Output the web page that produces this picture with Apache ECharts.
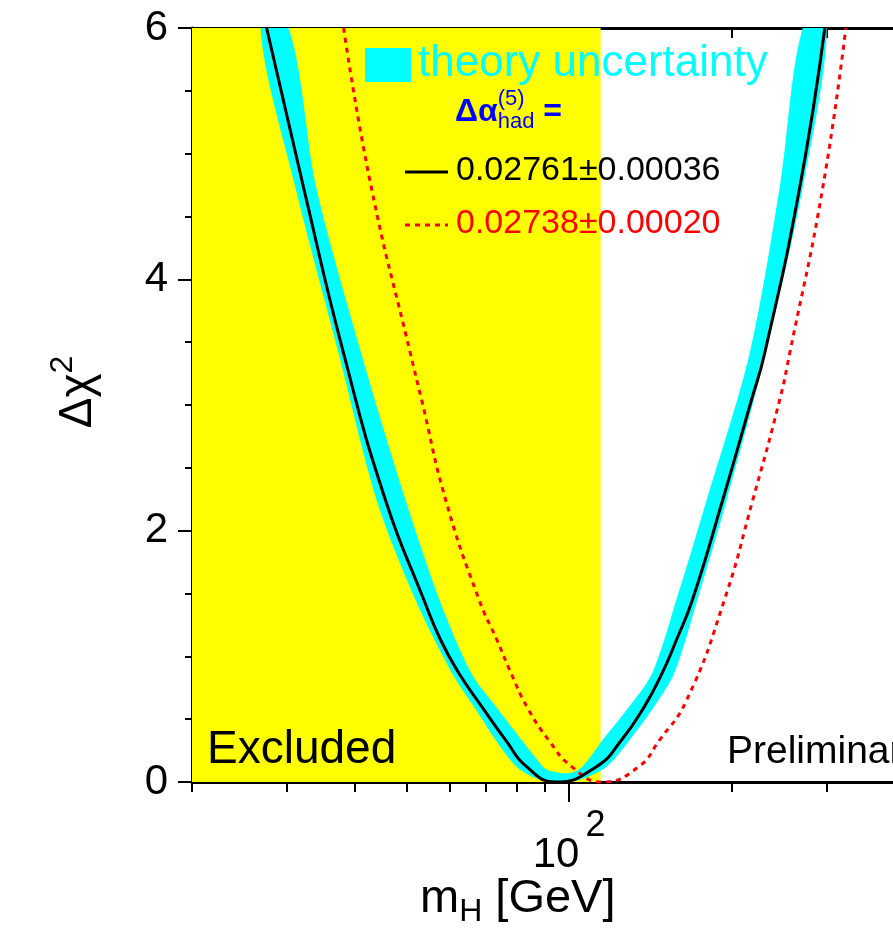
<!DOCTYPE html>
<html><head><meta charset="utf-8">
<script src="https://cdn.jsdelivr.net/npm/echarts@6/dist/echarts.min.js"></script>
<style>html,body{margin:0;padding:0;background:#fff}#c{width:893px;height:943px}</style>
</head><body><div id="c"></div>
<script>
// black curve: [mH, dchi2]
const blackCurve = [[27.5,6.0],[32.2,4.73],[38.2,3.41],[45.7,2.24],[53.8,1.45],[57.8,1.13],[62.4,0.87],[68.9,0.60],[76.4,0.33],[83.5,0.12],[94.6,0],[112.2,0.12],[124.9,0.33],[137.9,0.60],[148.9,0.87],[158.1,1.13],[169.3,1.45],[192.5,2.24],[217.8,3.04],[230.4,3.41],[267.6,4.73],[297.9,6.0]];
// red dashed curve
const redCurve = [[38.2,6.0],[43.0,4.73],[50.8,3.41],[53.3,3.04],[59.1,2.24],[68.1,1.45],[73.5,1.13],[78.0,0.87],[83.5,0.60],[91.8,0.33],[101.3,0.12],[115.2,0],[134.4,0.12],[146.9,0.33],[165.1,0.65],[194.1,1.45],[218.9,2.24],[245.7,3.04],[256.4,3.41],[295.3,4.73],[325.8,6.0]];
// theory band outline: outer edge (left to right), then inner edge (right to left)
const bandOuter = [[26.8,6.0],[31.1,4.73],[37.4,3.41],[44.0,2.24],[51.9,1.45],[60.6,0.87],[66.6,0.60],[73.2,0.33],[80.0,0.12],[88,0.02],[96,0],[105,0.02],[117.2,0.12],[129.3,0.33],[143.8,0.60],[156.8,0.87],[172.9,1.45],[195.8,2.24],[231.4,3.41],[271.1,4.73],[300.4,6.0]];
const bandInner = [[271.1,6.0],[245.7,4.73],[216.1,3.41],[179.8,2.24],[158.1,1.45],[142.7,0.87],[129.3,0.60],[115.2,0.33],[105.7,0.12],[100,0.07],[92,0.09],[89.6,0.12],[81.8,0.33],[73.2,0.60],[65.8,0.87],[57.5,1.45],[49.8,2.24],[41.2,3.41],[34.0,4.73],[30.2,6.0]];
const excluded = [20, 114.4];
const xMinorTicks = [20,30,40,50,60,70,80,90,100,200,300];
const xMajorTicks = [100];

const chart = echarts.init(document.getElementById('c'));
const F = 'Liberation Sans, Arial, sans-serif';
const band = bandOuter.concat(bandInner);
const XMAX = 398.5;
chart.setOption({
  animation:false,
  grid:{left:192,right:0,top:28,bottom:161},
  xAxis:[{type:'log',min:20,max:XMAX,
    axisLine:{show:true,lineStyle:{color:'#000',width:3}},
    axisTick:{show:true,customValues:xMinorTicks,length:10,lineStyle:{color:'#000',width:2}},
    axisLabel:{show:true,customValues:xMajorTicks,margin:22,formatter:()=>'{a|10}{b|2}',
      rich:{a:{fontSize:42,fontFamily:F,color:'#000',padding:[30,0,0,0]},b:{fontSize:36,fontFamily:F,color:'#000',padding:[0,0,28,6]}}},
    splitLine:{show:false}},
   {type:'log',min:20,max:XMAX,position:'bottom',
    axisLine:{show:false},axisTick:{show:true,customValues:xMajorTicks,length:20,lineStyle:{color:'#000',width:2}},
    axisLabel:{show:false},splitLine:{show:false}},
   {type:'log',min:20,max:XMAX,position:'top',
    axisLine:{show:true,lineStyle:{color:'#000',width:3}},axisTick:{show:true,inside:true,customValues:[200,300],length:10,lineStyle:{color:'#000',width:2}},
    axisLabel:{show:false},splitLine:{show:false}}],
  yAxis:[{type:'value',min:0,max:6,interval:2,
    axisLine:{show:true,lineStyle:{color:'#000',width:3}},
    axisTick:{show:true,length:14,lineStyle:{color:'#000',width:2}},
    minorTick:{show:true,splitNumber:4,length:7,lineStyle:{color:'#000',width:2}},
    axisLabel:{fontSize:42,fontFamily:F,color:'#000',margin:24},
    splitLine:{show:false}}],
  series:[
    {type:'line',data:[],markArea:{silent:true,itemStyle:{color:'#ffff00'},data:[[{xAxis:excluded[0]},{xAxis:excluded[1]}]]}},
    {type:'custom',data:band,clip:true,renderItem:function(params,api){
      if(params.dataIndex!==0) return null;
      const pts = band.map(p=>api.coord(p));
      return {type:'polygon',shape:{points:pts,smooth:0.3},style:{fill:'#00ffff'}};
    },z:3},
    {type:'line',data:blackCurve,smooth:0.5,showSymbol:false,lineStyle:{color:'#000',width:3},z:5},
    {type:'line',data:redCurve,smooth:0.5,showSymbol:false,lineStyle:{color:'#ff0000',width:3,type:[5,5]},z:4}
  ],
  graphic:[
    {type:'rect',shape:{x:365,y:48,width:46,height:34},style:{fill:'#00ffff'},z:10},
    {type:'text',left:418,top:42,style:{text:'theory uncertainty',fontSize:44,fontFamily:F,fill:'#00ffff'},z:10},
    {type:'text',left:455,top:88,style:{text:'{a|Δα}{s|(5)}{h|had}{a| =}',fill:'#0000ff',rich:{
      a:{fontSize:32,fontWeight:'bold',fontFamily:F,fill:'#0000ff'},
      s:{fontSize:22,fontFamily:F,fill:'#0000ff',padding:[0,0,26,0],width:0},
      h:{fontSize:22,fontFamily:F,fill:'#0000ff',padding:[20,0,0,0]}}},z:10},
    {type:'line',shape:{x1:405,y1:172,x2:448,y2:172},style:{stroke:'#000',lineWidth:3},z:10},
    {type:'text',left:456,top:154,style:{text:'0.02761±0.00036',fontSize:34,fontFamily:F,fill:'#000'},z:10},
    {type:'line',shape:{x1:405,y1:225,x2:448,y2:225},style:{stroke:'#ff0000',lineWidth:3,lineDash:[5,5]},z:10},
    {type:'text',left:456,top:207,style:{text:'0.02738±0.00020',fontSize:34,fontFamily:F,fill:'#ff0000'},z:10},
    {type:'text',left:207,top:727,style:{text:'Excluded',fontSize:46,fontFamily:F,fill:'#000'},z:10},
    {type:'text',left:727,top:733,style:{text:'Preliminary',fontSize:39,fontFamily:F,fill:'#000'},z:10},
    {type:'text',left:420,top:876,style:{text:'{a|m}{b|H}{a| [GeV]}',rich:{a:{fontSize:47,fontFamily:F,fill:'#000'},b:{fontSize:32,fontFamily:F,fill:'#000',padding:[26,0,0,0]}}},z:10},
    {type:'text',x:78,y:392,rotation:Math.PI/2,style:{text:'{a|Δχ}{b|2}',align:'center',verticalAlign:'middle',rich:{a:{fontSize:46,fontFamily:F,fill:'#000'},b:{fontSize:32,fontFamily:F,fill:'#000',padding:[0,0,30,0]}}},z:10}
  ]
});
</script></body></html>
